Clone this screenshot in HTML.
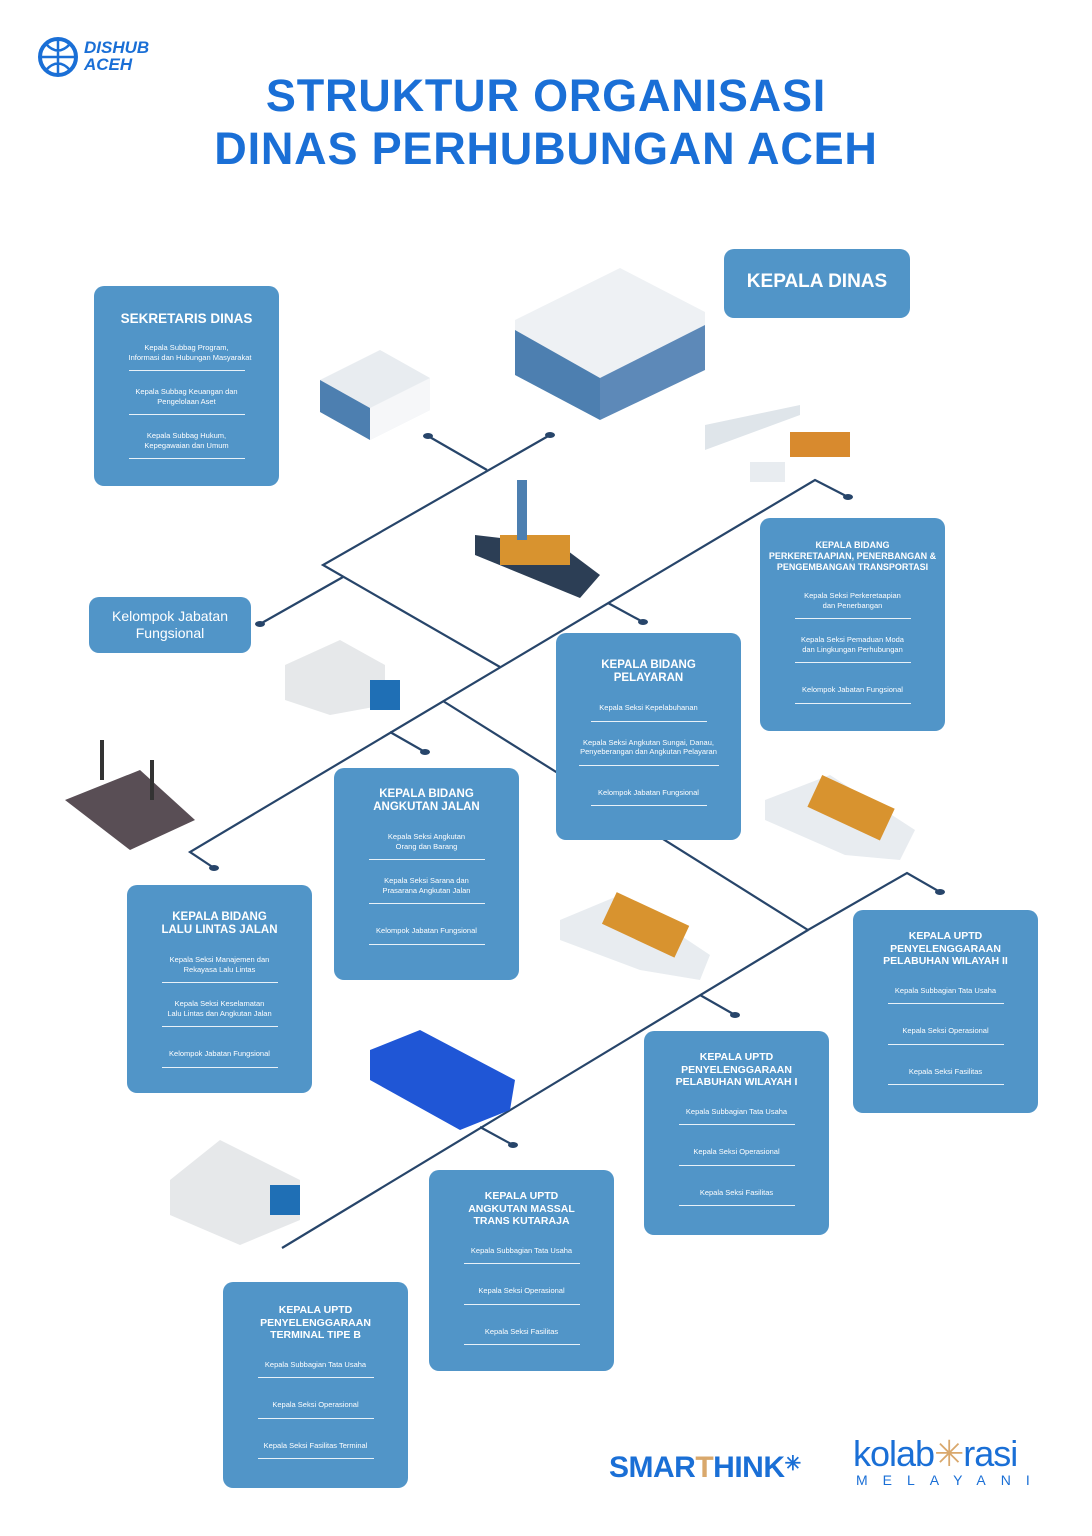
<!DOCTYPE html>
<html><head><meta charset="utf-8">
<style>
body{margin:0;background:#fff;}
#p{position:relative;width:1092px;height:1536px;overflow:hidden;background:#fff;font-family:"Liberation Sans",sans-serif;}
.t{position:absolute;left:0;width:1092px;text-align:center;color:#1a6fd6;font-weight:bold;font-size:45px;letter-spacing:0.8px;}
.b{position:absolute;background:#5195c8;border-radius:10px;color:#fff;text-align:center;box-sizing:border-box;padding-top:26px;}
.b h{display:block;font-weight:bold;font-size:11.5px;line-height:13px;margin-bottom:12px;}
.b i{font-style:normal;display:block;font-size:7.5px;line-height:9.5px;width:116px;margin:0 auto 10px;padding:6px 0 8px;border-bottom:1px solid #e8f1f8;white-space:nowrap;}
svg{position:absolute;left:0;top:0;}
</style></head><body><div id="p">
<svg width="1092" height="1536">
<g stroke="#27456a" stroke-width="2.2" fill="none">
<polyline points="428,436 487,470"/>
<polyline points="550,435 323,565 500,667"/>
<polyline points="343,577 260,624"/>
<polyline points="848,497 815,480 190,852 214,868"/>
<polyline points="608,603 643,622"/>
<polyline points="390,732 425,752"/>
<polyline points="443,701 808,930 907,873 940,892"/>
<polyline points="808,930 282,1248"/>
<polyline points="700,995 735,1015"/>
<polyline points="480,1127 513,1145"/>
</g>
<g fill="#27456a">
<ellipse cx="428" cy="436" rx="5" ry="3"/><ellipse cx="550" cy="435" rx="5" ry="3"/>
<ellipse cx="260" cy="624" rx="5" ry="3"/><ellipse cx="848" cy="497" rx="5" ry="3"/>
<ellipse cx="643" cy="622" rx="5" ry="3"/><ellipse cx="425" cy="752" rx="5" ry="3"/>
<ellipse cx="214" cy="868" rx="5" ry="3"/><ellipse cx="940" cy="892" rx="5" ry="3"/>
<ellipse cx="735" cy="1015" rx="5" ry="3"/><ellipse cx="513" cy="1145" rx="5" ry="3"/>
</g>
<circle cx="58" cy="57" r="18" fill="none" stroke="#1a6fd6" stroke-width="4"/>
<path d="M40 57h36M58 39v36M46 44q12 13 24 0M46 70q12-13 24 0" stroke="#1a6fd6" stroke-width="2.5" fill="none"/>
<g>
<polygon points="320,380 380,350 430,378 430,410 370,440 320,412" fill="#e8ecf0"/>
<polygon points="320,380 370,408 370,440 320,412" fill="#4d7fb0"/>
<polygon points="370,408 430,378 430,410 370,440" fill="#f6f7f9"/>
<polygon points="515,320 620,268 705,312 705,370 600,420 515,375" fill="#eef1f4"/>
<polygon points="515,330 600,378 600,420 515,375" fill="#4d7fb0"/>
<polygon points="600,378 705,325 705,370 600,420" fill="#5d89b8"/>
<polygon points="705,425 800,405 800,415 705,450" fill="#dfe5ea"/>
<rect x="790" y="432" width="60" height="25" fill="#d88a2e"/>
<rect x="750" y="462" width="35" height="20" fill="#e8ecf0"/>
<polygon points="475,535 560,545 600,575 580,598 475,555" fill="#2c3e55"/>
<rect x="500" y="535" width="70" height="30" fill="#d8932f"/>
<rect x="517" y="480" width="10" height="60" fill="#4d7fb0"/>
<polygon points="285,665 340,640 385,665 385,705 330,715 285,700" fill="#e6e8ea"/>
<rect x="370" y="680" width="30" height="30" fill="#1f6fb5"/>
<polygon points="65,800 140,770 195,820 130,850" fill="#594e55"/>
<rect x="100" y="740" width="4" height="40" fill="#333"/><rect x="150" y="760" width="4" height="40" fill="#333"/>
<polygon points="765,800 830,775 915,830 900,860 845,855 765,820" fill="#e8ecf0"/>
<rect x="810" y="790" width="80" height="35" fill="#d8932f" transform="rotate(25 850 810)"/>
<polygon points="560,920 620,895 710,955 700,980 640,970 560,940" fill="#e8ecf0"/>
<rect x="605" y="905" width="80" height="35" fill="#d8932f" transform="rotate(25 640 925)"/>
<polygon points="370,1050 420,1030 515,1080 510,1110 460,1130 370,1080" fill="#1f56d6"/>
<polygon points="170,1180 220,1140 300,1180 300,1220 240,1245 170,1215" fill="#e6e8ea"/>
<rect x="270" y="1185" width="30" height="30" fill="#1f6fb5"/>
</g>
</svg>
<div style="position:absolute;left:84px;top:39px;color:#1a6fd6;font-weight:bold;font-style:italic;font-size:17px;line-height:17px;">DISHUB<br>ACEH</div>
<div class="t" style="top:70px;">STRUKTUR ORGANISASI</div>
<div class="t" style="top:123px;">DINAS PERHUBUNGAN ACEH</div>

<div class="b" style="left:724px;top:249px;width:186px;height:69px;padding-top:22px;font-weight:bold;font-size:19px;">KEPALA DINAS</div>
<div class="b" style="left:89px;top:597px;width:162px;height:56px;padding-top:11px;font-size:14px;line-height:17px;">Kelompok Jabatan<br>Fungsional</div>

<div class="b" style="left:94px;top:286px;width:185px;height:200px;"><h style="font-size:13.5px">SEKRETARIS DINAS</h>
<i>Kepala Subbag Program,<br>Informasi dan Hubungan Masyarakat</i><i>Kepala Subbag Keuangan dan<br>Pengelolaan Aset</i><i>Kepala Subbag Hukum,<br>Kepegawaian dan Umum</i></div>

<div class="b" style="left:760px;top:518px;width:185px;height:213px;padding-top:22px;"><h style="font-size:9px;line-height:11px;">KEPALA BIDANG<br>PERKERETAAPIAN, PENERBANGAN &amp;<br>PENGEMBANGAN TRANSPORTASI</h>
<i>Kepala Seksi Perkeretaapian<br>dan Penerbangan</i><i>Kepala Seksi Pemaduan Moda<br>dan Lingkungan Perhubungan</i><i style="padding-top:12px">Kelompok Jabatan Fungsional</i></div>

<div class="b" style="left:556px;top:633px;width:185px;height:207px;"><h>KEPALA BIDANG<br>PELAYARAN</h>
<i>Kepala Seksi Kepelabuhanan</i><i style="width:140px">Kepala Seksi Angkutan Sungai, Danau,<br>Penyeberangan dan Angkutan Pelayaran</i><i style="padding-top:12px">Kelompok Jabatan Fungsional</i></div>

<div class="b" style="left:334px;top:768px;width:185px;height:212px;padding-top:20px;"><h>KEPALA BIDANG<br>ANGKUTAN JALAN</h>
<i>Kepala Seksi Angkutan<br>Orang dan Barang</i><i>Kepala Seksi Sarana dan<br>Prasarana Angkutan Jalan</i><i style="padding-top:12px">Kelompok Jabatan Fungsional</i></div>

<div class="b" style="left:127px;top:885px;width:185px;height:208px;"><h>KEPALA BIDANG<br>LALU LINTAS JALAN</h>
<i>Kepala Seksi Manajemen dan<br>Rekayasa Lalu Lintas</i><i>Kepala Seksi Keselamatan<br>Lalu Lintas dan Angkutan Jalan</i><i style="padding-top:12px">Kelompok Jabatan Fungsional</i></div>

<div class="b" style="left:853px;top:910px;width:185px;height:203px;padding-top:20px;"><h style="font-size:10.5px;line-height:12.5px;">KEPALA UPTD<br>PENYELENGGARAAN<br>PELABUHAN WILAYAH II</h>
<i>Kepala Subbagian Tata Usaha</i><i style="padding-top:12px">Kepala Seksi Operasional</i><i style="padding-top:12px">Kepala Seksi Fasilitas</i></div>

<div class="b" style="left:644px;top:1031px;width:185px;height:204px;padding-top:20px;"><h style="font-size:10.5px;line-height:12.5px;">KEPALA UPTD<br>PENYELENGGARAAN<br>PELABUHAN WILAYAH I</h>
<i>Kepala Subbagian Tata Usaha</i><i style="padding-top:12px">Kepala Seksi Operasional</i><i style="padding-top:12px">Kepala Seksi Fasilitas</i></div>

<div class="b" style="left:429px;top:1170px;width:185px;height:201px;padding-top:20px;"><h style="font-size:10.5px;line-height:12.5px;">KEPALA UPTD<br>ANGKUTAN MASSAL<br>TRANS KUTARAJA</h>
<i>Kepala Subbagian Tata Usaha</i><i style="padding-top:12px">Kepala Seksi Operasional</i><i style="padding-top:12px">Kepala Seksi Fasilitas</i></div>

<div class="b" style="left:223px;top:1282px;width:185px;height:206px;padding-top:22px;"><h style="font-size:10.5px;line-height:12.5px;">KEPALA UPTD<br>PENYELENGGARAAN<br>TERMINAL TIPE B</h>
<i>Kepala Subbagian Tata Usaha</i><i style="padding-top:12px">Kepala Seksi Operasional</i><i style="padding-top:12px">Kepala Seksi Fasilitas Terminal</i></div>

<div style="position:absolute;left:609px;top:1451px;color:#1a6fd6;font-weight:bold;font-size:30px;letter-spacing:-0.5px;">SMAR<span style="color:#d9a86c">T</span>HINK<span style="font-size:20px;vertical-align:top;">✳</span></div>
<div style="position:absolute;left:853px;top:1433px;color:#1a6fd6;font-size:36px;letter-spacing:-1px;">kolab<span style="color:#d9a86c">✳</span>rasi</div>
<div style="position:absolute;left:856px;top:1472px;color:#1a6fd6;font-size:14px;letter-spacing:15px;">MELAYANI</div>
</div></body></html>
